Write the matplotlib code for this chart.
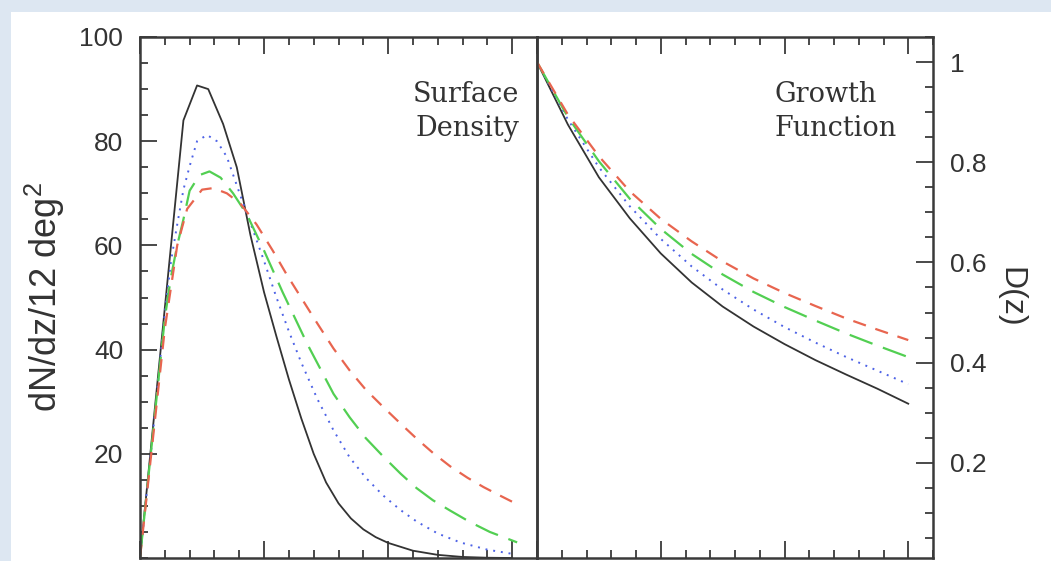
import numpy as np
import matplotlib
matplotlib.use("Agg")
from matplotlib import pyplot as plt
from matplotlib.patches import Rectangle
from matplotlib.ticker import MultipleLocator

# surface density dN/dz per 12 deg^2, one array per model
z_black = [0, 0.35, 0.46, 0.55, 0.67, 0.78, 0.89, 1.0, 1.1, 1.2, 1.3, 1.4, 1.5, 1.6, 1.7, 1.8,
           1.9, 2.0, 2.2, 2.4, 2.6, 2.8, 3.0]
n_black = [0, 84, 90.7, 90, 83.3, 75, 62, 51, 42.5, 34.3, 26.8, 20, 14.5, 10.5, 7.6, 5.5,
           4.0, 2.9, 1.4, 0.6, 0.2, 0.05, 0]

z_blue = [0, 0.1, 0.2, 0.25, 0.3, 0.35, 0.4, 0.46, 0.54, 0.62, 0.7, 0.81, 0.91, 1.0, 1.1, 1.2,
          1.3, 1.43, 1.56, 1.69, 1.82, 1.96, 2.1, 2.23, 2.4, 2.58, 2.8, 3.0]
n_blue = [0, 23, 47, 57, 64, 70.7, 75.2, 80, 81.2, 80, 77, 69.5, 63, 57, 50, 43.5,
          37.5, 30.5, 24.5, 19.3, 15.4, 12, 9.2, 7.0, 4.7, 3.0, 1.6, 0.8]

z_green = [0, 0.1, 0.2, 0.25, 0.3, 0.35, 0.4, 0.48, 0.56, 0.65, 0.75, 0.86, 1.0, 1.15, 1.35,
           1.56, 1.69, 1.82, 1.96, 2.1, 2.23, 2.36, 2.5, 2.66, 2.82, 3.04]
n_green = [0, 23, 46, 54, 60, 65, 70.5, 73.5, 74.2, 73, 70, 66, 59, 51, 41,
           31.5, 27, 23, 19.5, 16.2, 13.4, 11.1, 9.1, 6.9, 5.0, 3.0]

z_red = [0, 0.1, 0.2, 0.3, 0.38, 0.5, 0.59, 0.7, 0.81, 0.94, 1.07, 1.18, 1.29, 1.43, 1.56,
         1.69, 1.82, 1.96, 2.1, 2.23, 2.36, 2.5, 2.64, 2.77, 2.9, 3.0]
n_red = [0, 22, 44, 60, 67, 70.7, 71, 70, 68, 64, 59, 54.5, 50.3, 45, 40.2,
         36, 32.3, 29, 25.8, 22.9, 20.2, 17.6, 15.4, 13.6, 12.0, 10.8]

# growth function D(z)
z_d = [0, 0.25, 0.5, 0.75, 1.0, 1.25, 1.5, 1.75, 2.0, 2.25, 2.5, 2.75, 3.0]
d_black = [1.0, 0.875, 0.77, 0.688, 0.618, 0.56, 0.512, 0.472, 0.437, 0.405, 0.376, 0.348, 0.318]
d_blue = [1.0, 0.885, 0.79, 0.712, 0.647, 0.592, 0.546, 0.506, 0.471, 0.44, 0.411, 0.384, 0.357]
d_green = [1.0, 0.89, 0.802, 0.727, 0.667, 0.617, 0.576, 0.541, 0.511, 0.484, 0.458, 0.434, 0.411]
d_red = [1.0, 0.895, 0.812, 0.742, 0.687, 0.642, 0.602, 0.568, 0.539, 0.513, 0.488, 0.466, 0.445]

styles = [
    dict(color="#333333", lw=1.3, ls="-"),
    dict(color="#4d62e6", lw=1.4, ls=(0, (1, 3))),
    dict(color="#52cf52", lw=1.6, ls=(0, (11, 5))),
    dict(color="#e8654f", lw=1.6, ls=(0, (6, 4.5))),
]

W, H = 1051, 561
fig = plt.figure(figsize=(W / 100, H / 100), dpi=100)
fig.patch.set_facecolor("#dde7f2")
fig.add_artist(Rectangle((11 / W, 0), 1, 1 - 12 / H, transform=fig.transFigure,
                         facecolor="white", edgecolor="none", zorder=-5))

bot = 1 - 558 / H
hgt = (558 - 37) / H
ax1 = fig.add_axes([140 / W, bot, 397 / W, hgt])
ax2 = fig.add_axes([537 / W, bot, 396 / W, hgt])

for ax in (ax1, ax2):
    ax.set_facecolor("none")
    ax.set_xlim(0, 3.2)
    ax.xaxis.set_major_locator(MultipleLocator(1))
    ax.xaxis.set_minor_locator(MultipleLocator(0.2))
    for s in ax.spines.values():
        s.set_linewidth(1.8)
        s.set_color("#3a3a3a")
    ax.tick_params(which="both", direction="in", top=True, bottom=True,
                   labelbottom=False, color="#3a3a3a", width=1.3)
    ax.tick_params(which="major", length=12)
    ax.tick_params(which="minor", length=5.5)

for x, y, st in zip([z_black, z_blue, z_green, z_red], [n_black, n_blue, n_green, n_red], styles):
    ax1.plot(x, y, **st)
ax1.set_ylim(0, 100)
ax1.yaxis.set_major_locator(MultipleLocator(20))
ax1.yaxis.set_minor_locator(MultipleLocator(5))
ax1.tick_params(axis="y", which="both", left=True, right=False, pad=12)
ax1.set_yticks([20, 40, 60, 80, 100])
for lab in ax1.get_yticklabels():
    lab.set_fontfamily("Liberation Sans")
    lab.set_fontsize(19)
    lab.set_color("#333333")
ax1.set_ylabel("dN/dz/12 deg$^{\\mathregular{2}}$", family="Liberation Sans", size=26,
               color="#333333", labelpad=9)
ax1.text(0.955, 0.915, "Surface\nDensity", transform=ax1.transAxes, ha="right", va="top",
         multialignment="right", family="DejaVu Serif", size=19.5, color="#333333", linespacing=1.3)

for y, st in zip([d_black, d_blue, d_green, d_red], styles):
    ax2.plot(z_d, y, **st)
ax2.set_ylim(0.01, 1.05)
ax2.yaxis.set_major_locator(MultipleLocator(0.2))
ax2.yaxis.set_minor_locator(MultipleLocator(0.05))
ax2.set_yticks([0.2, 0.4, 0.6, 0.8, 1.0])
ax2.set_yticklabels(["0.2", "0.4", "0.6", "0.8", "1"])
ax2.yaxis.tick_right()
ax2.tick_params(axis="y", which="both", left=False, right=True, labelleft=False,
                labelright=True, pad=12)
for lab in ax2.get_yticklabels():
    lab.set_fontfamily("Liberation Sans")
    lab.set_fontsize(19)
    lab.set_color("#333333")
ax2.yaxis.set_label_position("right")
ax2.set_ylabel("D(z)", family="Liberation Sans", size=23, color="#333333",
               rotation=270, labelpad=28)
ax2.text(0.60, 0.915, "Growth\nFunction", transform=ax2.transAxes, ha="left", va="top",
         multialignment="left", family="DejaVu Serif", size=19.5, color="#333333", linespacing=1.3)

fig.savefig("out.png", dpi=100, facecolor=fig.get_facecolor())
